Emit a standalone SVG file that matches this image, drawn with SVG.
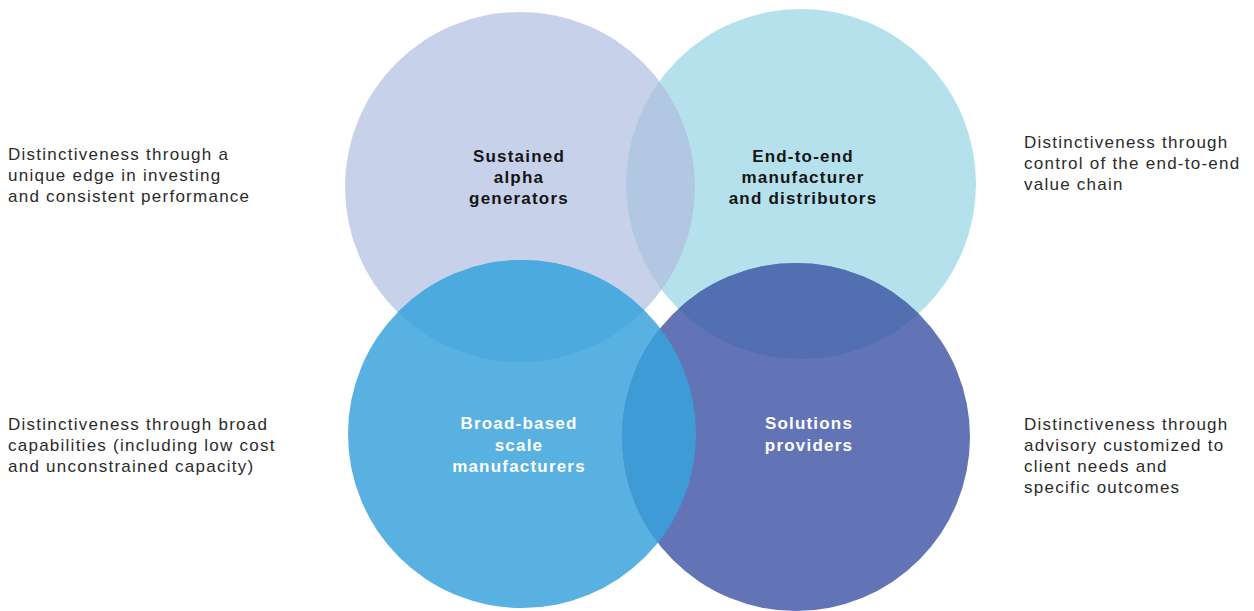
<svg xmlns="http://www.w3.org/2000/svg" width="1254" height="611" viewBox="0 0 1254 611">
<style>
.desc{font-family:"Liberation Sans",Arial,sans-serif;font-size:17px;fill:#2b2b2b;letter-spacing:1.25px}
.lbl{font-family:"Liberation Sans",Arial,sans-serif;font-size:17px;font-weight:bold;letter-spacing:1.2px;text-anchor:middle}
.dark{fill:#151515}
.light{fill:#ffffff}
</style>
<defs>
<clipPath id="cTR"><circle cx="801" cy="184" r="175"/></clipPath>
<clipPath id="cBL"><circle cx="522" cy="434" r="174"/></clipPath>
<clipPath id="cBR"><circle cx="796" cy="437" r="174"/></clipPath>
</defs>
<rect width="1254" height="611" fill="#ffffff"/>
<g id="node-alpha">
<circle cx="520" cy="187" r="175" fill="#c7d1ea"/>
</g>
<g id="node-e2e">
<circle cx="801" cy="184" r="175" fill="#b4e1ec"/>
<circle cx="520" cy="187" r="175" fill="#b2c8e2" clip-path="url(#cTR)"/>
</g>
<g id="node-broad">
<circle cx="522" cy="434" r="174" fill="#58b1e1"/>
<circle cx="520" cy="187" r="175" fill="#4daade" clip-path="url(#cBL)"/>
</g>
<g id="node-solutions">
<circle cx="796" cy="437" r="174" fill="#6374b6"/>
<circle cx="801" cy="184" r="175" fill="#526fb2" clip-path="url(#cBR)"/>
<circle cx="522" cy="434" r="174" fill="#3e9bd6" clip-path="url(#cBR)"/>
</g>
<g id="labels">
<text class="lbl dark"><tspan x="519" y="162">Sustained</tspan><tspan x="519" y="183">alpha</tspan><tspan x="519" y="204">generators</tspan></text>
<text class="lbl dark"><tspan x="803" y="162">End-to-end</tspan><tspan x="803" y="183">manufacturer</tspan><tspan x="803" y="204">and distributors</tspan></text>
<text class="lbl light"><tspan x="519" y="429">Broad-based</tspan><tspan x="519" y="451">scale</tspan><tspan x="519" y="472">manufacturers</tspan></text>
<text class="lbl light"><tspan x="809" y="429">Solutions</tspan><tspan x="809" y="451">providers</tspan></text>
</g>
<g id="descriptions">
<text class="desc"><tspan x="8" y="160">Distinctiveness through a</tspan><tspan x="8" y="181">unique edge in investing</tspan><tspan x="8" y="202">and consistent performance</tspan></text>
<text class="desc"><tspan x="1024" y="148">Distinctiveness through</tspan><tspan x="1024" y="169">control of the end-to-end</tspan><tspan x="1024" y="190">value chain</tspan></text>
<text class="desc"><tspan x="8" y="430">Distinctiveness through broad</tspan><tspan x="8" y="451">capabilities (including low cost</tspan><tspan x="8" y="472">and unconstrained capacity)</tspan></text>
<text class="desc"><tspan x="1024" y="430">Distinctiveness through</tspan><tspan x="1024" y="451">advisory customized to</tspan><tspan x="1024" y="472">client needs and</tspan><tspan x="1024" y="493">specific outcomes</tspan></text>
</g>
<g id="connectors"/>
</svg>
